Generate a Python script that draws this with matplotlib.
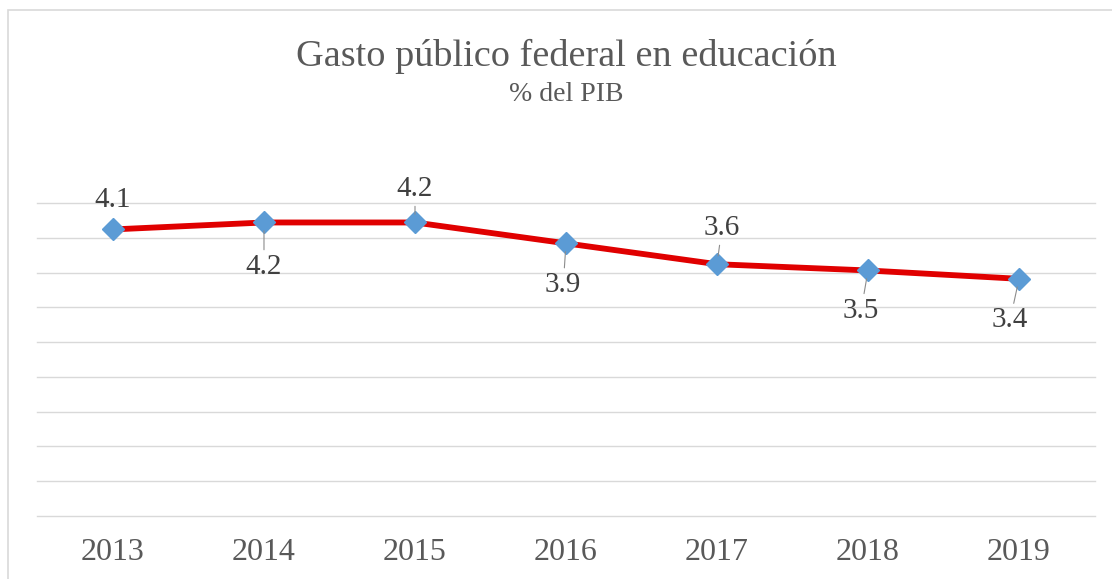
import matplotlib
matplotlib.use('Agg')
import matplotlib.pyplot as plt
from matplotlib.patches import Rectangle

years = ['2013', '2014', '2015', '2016', '2017', '2018', '2019']
values = [4.12, 4.22, 4.22, 3.92, 3.62, 3.53, 3.41]
labels = ['4.1', '4.2', '4.2', '3.9', '3.6', '3.5', '3.4']
# label offsets in points (dx, dy) and whether a leader line is drawn
offsets = [(0, 21.5), (0, -32), (0, 24), (-2, -30), (3.5, 26), (-5, -29), (-6.5, -30)]
leaders = [False, True, True, True, True, True, True]

plt.rcParams['font.family'] = ['Liberation Serif', 'DejaVu Serif']

fig = plt.figure(figsize=(11.12, 5.79), dpi=100)
ax = fig.add_axes([0.0337, 0.1088, 0.9506, 0.5406])

x = list(range(len(years)))
ax.plot(x, values, color='#e00000', lw=4.2, zorder=3, solid_capstyle='round')
ax.plot(x, values, ls='none', marker='D', ms=11, color='#5b9bd5', zorder=4)

for i in range(len(years)):
    arrow = None
    if leaders[i]:
        arrow = dict(arrowstyle='-', color='#8c8c8c', lw=0.8, shrinkA=1, shrinkB=6)
    ax.annotate(labels[i], (x[i], values[i]), xytext=offsets[i], textcoords='offset points',
                ha='center', va='center', fontsize=21, color='#404040', arrowprops=arrow, zorder=5)

ax.set_xlim(-0.5, len(years) - 0.5)
ax.set_ylim(0, 4.5)
ax.set_yticks([i * 0.5 for i in range(10)])
ax.set_yticklabels([])
ax.grid(axis='y', color='#d9d9d9', lw=1)
for gl in ax.get_ygridlines():
    gl.set_clip_on(False)
ax.set_axisbelow(True)
ax.set_xticks(x)
ax.set_xticklabels(years, fontsize=23, color='#595959')
ax.tick_params(axis='both', length=0)
ax.tick_params(axis='x', pad=16)
for s in ax.spines.values():
    s.set_visible(False)

fig.text(0.509, 0.902, 'Gasto público federal en educación', ha='center', va='center',
         fontsize=27.5, color='#595959')
fig.text(0.509, 0.836, '% del PIB', ha='center', va='center', fontsize=20, color='#595959')

fig.patches.append(Rectangle((8 / 1112, -0.01), 1.02, 1 - 10 / 579 + 0.01, transform=fig.transFigure,
                             fill=False, edgecolor='#d9d9d9', lw=1.2))

plt.savefig('out.png', dpi=100)
